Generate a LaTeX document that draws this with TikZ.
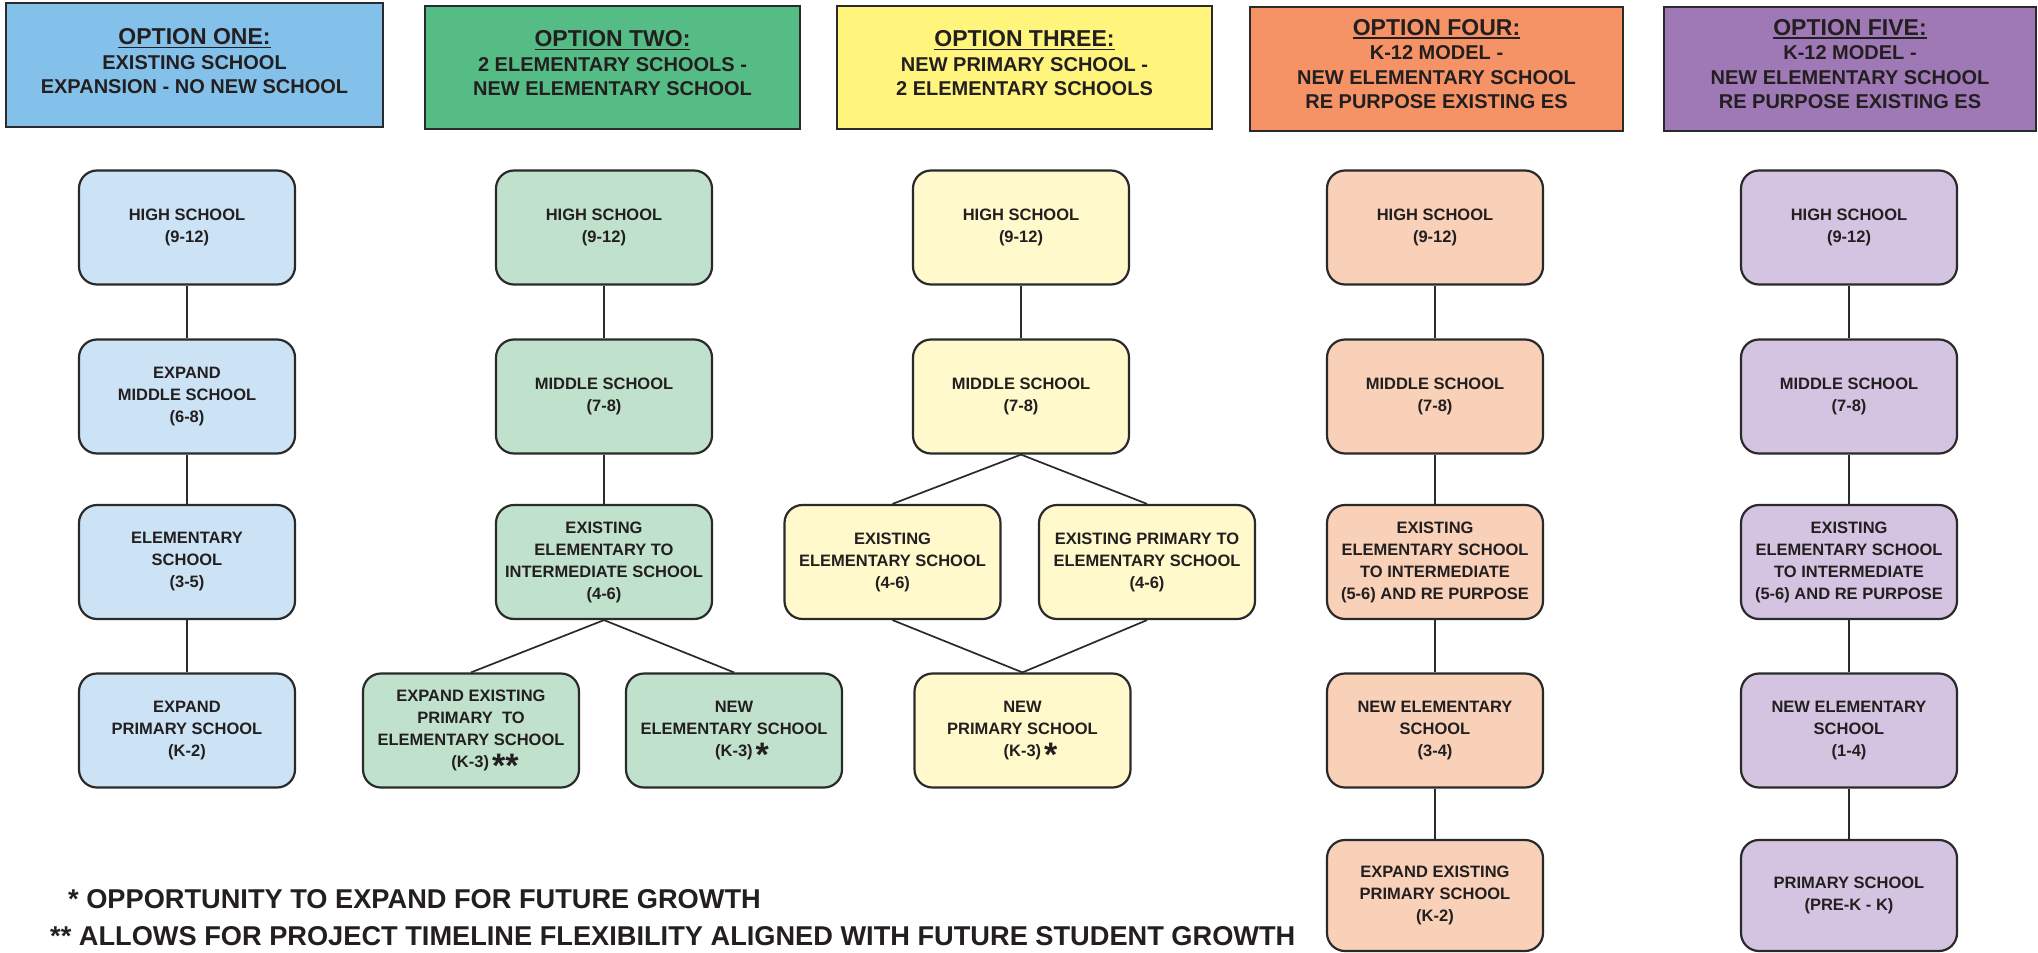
\documentclass[tikz,border=0pt]{standalone}
\usepackage{fontspec}
\setmainfont{Liberation Sans}
\definecolor{txt}{HTML}{231F20}
\definecolor{edge}{HTML}{2A2A2A}
\definecolor{hA}{HTML}{84C1EA}
\definecolor{hB}{HTML}{56BC86}
\definecolor{hC}{HTML}{FFF57D}
\definecolor{hD}{HTML}{F69366}
\definecolor{hE}{HTML}{9F78B6}
\definecolor{bA}{HTML}{CCE3F5}
\definecolor{bB}{HTML}{C0E2CC}
\definecolor{bC}{HTML}{FFF9CB}
\definecolor{bD}{HTML}{F9D0B8}
\definecolor{bE}{HTML}{D5C4E1}
\newcommand\hdul[1]{\setbox0\hbox{#1}\rlap{\rule[-3.5pt]{\wd0}{1.8pt}}\box0}
\newcommand\fnast{\smash{\raisebox{-10pt}{\fontsize{34}{34}\selectfont *}}}
\begin{document}
\begin{tikzpicture}[x=1pt,y=-1pt,
  hdr/.style={draw=edge, line width=1.6pt, inner sep=0pt},
  htxt/.style={inner sep=0pt, align=center, text=txt, font=\fontsize{20}{24.5}\selectfont\bfseries},
  box/.style={draw=edge, line width=2.2pt, rounded corners=18pt, minimum width=216pt, minimum height=114pt, inner sep=0pt, align=center, text=txt, font=\fontsize{16.5}{22}\selectfont\bfseries},
  link/.style={draw=edge, line width=1.7pt},
  note/.style={anchor=base west, inner sep=0pt, text=txt, font=\fontsize{27.2}{30}\selectfont\bfseries}]
\useasboundingbox (0,0) rectangle (2038,953);
\fill[white] (0,0) rectangle (2038,953);

% headers
\node[hdr, fill=hA, minimum width=377pt, minimum height=124pt] (h1) at (194.5,65) {};
\node[hdr, fill=hB, minimum width=375pt, minimum height=123pt] (h2) at (612.5,67.5) {};
\node[hdr, fill=hC, minimum width=375pt, minimum height=123pt] (h3) at (1024.5,67.5) {};
\node[hdr, fill=hD, minimum width=373pt, minimum height=124pt] (h4) at (1436.5,69) {};
\node[hdr, fill=hE, minimum width=372pt, minimum height=124pt] (h5) at (1850,69) {};

\node[htxt] (t1) at ([yshift=3.5pt]h1.center) {{\fontsize{23}{24.5}\selectfont\hdul{OPTION ONE:}}\\EXISTING SCHOOL\\EXPANSION - NO NEW SCHOOL};
\node[htxt] (t2) at ([yshift=4pt]h2.center) {{\fontsize{23}{24.5}\selectfont\hdul{OPTION TWO:}}\\2 ELEMENTARY SCHOOLS -\\NEW ELEMENTARY SCHOOL};
\node[htxt] (t3) at ([yshift=4pt]h3.center) {{\fontsize{23}{24.5}\selectfont\hdul{OPTION THREE:}}\\NEW PRIMARY SCHOOL -\\2 ELEMENTARY SCHOOLS};
\node[htxt] (t4) at ([yshift=5pt]h4.center) {{\fontsize{23}{24.5}\selectfont\hdul{OPTION FOUR:}}\\K-12 MODEL -\\NEW ELEMENTARY SCHOOL\\RE PURPOSE EXISTING ES};
\node[htxt] (t5) at ([yshift=5pt]h5.center) {{\fontsize{23}{24.5}\selectfont\hdul{OPTION FIVE:}}\\K-12 MODEL -\\NEW ELEMENTARY SCHOOL\\RE PURPOSE EXISTING ES};

% column 1
\node[box, fill=bA] (a1) at (187,227.5) {HIGH SCHOOL\\(9-12)};
\node[box, fill=bA] (a2) at (187,396.5) {EXPAND\\MIDDLE SCHOOL\\(6-8)};
\node[box, fill=bA] (a3) at (187,562) {ELEMENTARY\\SCHOOL\\(3-5)};
\node[box, fill=bA] (a4) at (187,730.5) {EXPAND\\PRIMARY SCHOOL\\(K-2)};
\draw[link] (a1) -- (a2);
\draw[link] (a2) -- (a3);
\draw[link] (a3) -- (a4);

% column 2
\node[box, fill=bB] (b1) at (604,227.5) {HIGH SCHOOL\\(9-12)};
\node[box, fill=bB] (b2) at (604,396.5) {MIDDLE SCHOOL\\(7-8)};
\node[box, fill=bB] (b3) at (604,562) {EXISTING\\ELEMENTARY TO\\INTERMEDIATE SCHOOL\\(4-6)};
\node[box, fill=bB] (b4) at (471,730.5) {EXPAND EXISTING\\PRIMARY\ \ TO\\ELEMENTARY SCHOOL\\\hspace*{28pt}(K-3)\kern3pt\fnast\fnast};
\node[box, fill=bB] (b5) at (734,730.5) {NEW\\ELEMENTARY SCHOOL\\\hspace*{16pt}(K-3)\kern3pt\fnast};
\draw[link] (b1) -- (b2);
\draw[link] (b2) -- (b3);
\draw[link] (b3.south) -- (b4.north);
\draw[link] (b3.south) -- (b5.north);

% column 3
\node[box, fill=bC] (c1) at (1021,227.5) {HIGH SCHOOL\\(9-12)};
\node[box, fill=bC] (c2) at (1021,396.5) {MIDDLE SCHOOL\\(7-8)};
\node[box, fill=bC] (c3) at (892.5,562) {EXISTING\\ELEMENTARY SCHOOL\\(4-6)};
\node[box, fill=bC] (c4) at (1147,562) {EXISTING PRIMARY TO\\ELEMENTARY SCHOOL\\(4-6)};
\node[box, fill=bC] (c5) at (1022.5,730.5) {NEW\\PRIMARY SCHOOL\\\hspace*{16pt}(K-3)\kern3pt\fnast};
\draw[link] (c1) -- (c2);
\draw[link] (c2.south) -- (c3.north);
\draw[link] (c2.south) -- (c4.north);
\draw[link] (c3.south) -- (c5.north);
\draw[link] (c4.south) -- (c5.north);

% column 4
\node[box, fill=bD] (d1) at (1435,227.5) {HIGH SCHOOL\\(9-12)};
\node[box, fill=bD] (d2) at (1435,396.5) {MIDDLE SCHOOL\\(7-8)};
\node[box, fill=bD] (d3) at (1435,562) {EXISTING\\ELEMENTARY SCHOOL\\TO INTERMEDIATE\\(5-6) AND RE PURPOSE};
\node[box, fill=bD] (d4) at (1435,730.5) {NEW ELEMENTARY\\SCHOOL\\(3-4)};
\node[box, fill=bD, minimum height=111pt] (d5) at (1435,895.5) {EXPAND EXISTING\\PRIMARY SCHOOL\\(K-2)};
\draw[link] (d1) -- (d2);
\draw[link] (d2) -- (d3);
\draw[link] (d3) -- (d4);
\draw[link] (d4) -- (d5);

% column 5
\node[box, fill=bE] (e1) at (1849,227.5) {HIGH SCHOOL\\(9-12)};
\node[box, fill=bE] (e2) at (1849,396.5) {MIDDLE SCHOOL\\(7-8)};
\node[box, fill=bE] (e3) at (1849,562) {EXISTING\\ELEMENTARY SCHOOL\\TO INTERMEDIATE\\(5-6) AND RE PURPOSE};
\node[box, fill=bE] (e4) at (1849,730.5) {NEW ELEMENTARY\\SCHOOL\\(1-4)};
\node[box, fill=bE, minimum height=111pt] (e5) at (1849,895.5) {PRIMARY SCHOOL\\(PRE-K - K)};
\draw[link] (e1) -- (e2);
\draw[link] (e2) -- (e3);
\draw[link] (e3) -- (e4);
\draw[link] (e4) -- (e5);

% footnotes
\node[note] (n1) at (68,908) {* OPPORTUNITY TO EXPAND FOR FUTURE GROWTH};
\node[note] (n2) at (50,945) {** ALLOWS FOR PROJECT TIMELINE FLEXIBILITY ALIGNED WITH FUTURE STUDENT GROWTH};
\end{tikzpicture}
\end{document}
